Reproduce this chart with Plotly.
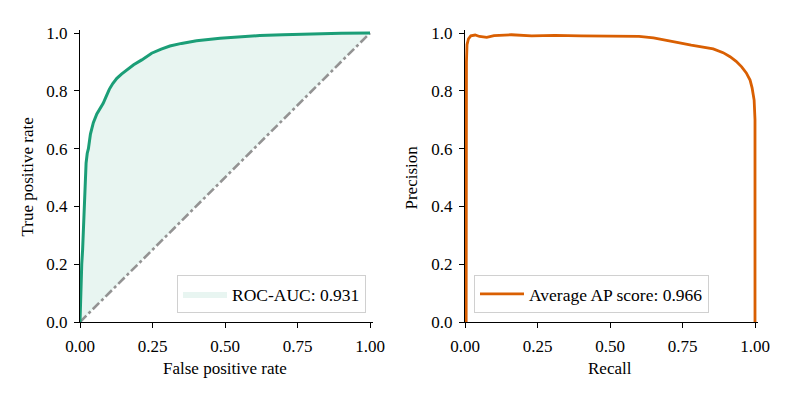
import plotly.graph_objects as go

# ROC data
fpr = [0, 0.001, 0.003, 0.006, 0.009, 0.012, 0.014, 0.017, 0.021, 0.025, 0.029, 0.036, 0.046, 0.058,
       0.07, 0.08, 0.09, 0.101, 0.113, 0.127, 0.143, 0.161, 0.185, 0.213, 0.247, 0.28, 0.31, 0.35,
       0.402, 0.483, 0.55, 0.62, 0.7, 0.8, 0.9, 1.0]
tpr = [0, 0.05, 0.12, 0.2, 0.25, 0.33, 0.41, 0.49, 0.55, 0.584, 0.6, 0.65, 0.69, 0.72,
       0.74, 0.757, 0.78, 0.805, 0.825, 0.843, 0.858, 0.872, 0.89, 0.907, 0.93, 0.944, 0.955, 0.964,
       0.973, 0.982, 0.987, 0.991, 0.994, 0.997, 0.999, 1.0]
diag = [0, 1]

# Precision-recall data
recall = [0.004, 0.004, 0.005, 0.007, 0.012, 0.02, 0.035, 0.05, 0.075, 0.1, 0.16, 0.23, 0.31, 0.4,
          0.5, 0.55, 0.6, 0.65, 0.7, 0.74, 0.78, 0.81, 0.856, 0.89, 0.914, 0.935, 0.954, 0.97,
          0.983, 0.99, 0.997, 1.0, 1.0]
precision = [0.0, 0.6, 0.9, 0.96, 0.98, 0.99, 0.993, 0.988, 0.985, 0.991, 0.994, 0.99, 0.992, 0.99,
             0.99, 0.989, 0.988, 0.983, 0.975, 0.966, 0.958, 0.953, 0.945, 0.932, 0.918, 0.902,
             0.883, 0.862, 0.837, 0.81, 0.768, 0.70, 0.0]

roc_label = "ROC-AUC: 0.931"
pr_label = "Average AP score: 0.966"
xticks_vals = [0, 0.25, 0.5, 0.75, 1.0]
yticks_vals = [0, 0.2, 0.4, 0.6, 0.8, 1.0]

GREEN = "#1b9e77"
ORANGE = "#d95f02"
FONT = "Liberation Serif"
FS = 17

fig = go.Figure()

# base for fill (diagonal)
fig.add_trace(go.Scatter(x=diag, y=diag, mode="lines", line=dict(width=0, color="rgba(0,0,0,0)"),
                         showlegend=False, hoverinfo="skip", xaxis="x", yaxis="y"))
fig.add_trace(go.Scatter(x=fpr, y=tpr, mode="lines", fill="tonexty",
                         fillcolor="rgba(27,158,119,0.1)", line=dict(width=0, color="rgba(0,0,0,0)"),
                         name=roc_label, legend="legend", xaxis="x", yaxis="y"))
fig.add_trace(go.Scatter(x=diag, y=diag, mode="lines", line=dict(color="#939393", width=2.6, dash="dashdot"),
                         showlegend=False, xaxis="x", yaxis="y"))
fig.add_trace(go.Scatter(x=fpr, y=tpr, mode="lines", line=dict(color=GREEN, width=3),
                         showlegend=False, xaxis="x", yaxis="y"))

fig.add_trace(go.Scatter(x=recall, y=precision, mode="lines", line=dict(color=ORANGE, width=2.8),
                         name=pr_label, legend="legend2", xaxis="x2", yaxis="y2"))

W, H = 789, 395
OFF = 8  # page body margin in the browser
x0L, x0R, unit = 80 - OFF, 465 - OFF, 290
y0 = 322 - OFF
yunit = 289
ext = 1.01

def xdom(x0):
    return [x0 / W, (x0 + ext * unit) / W]

ydom = [(H - y0) / H, (H - (y0 - ext * yunit)) / H]

axis_common = dict(range=[0, ext], showline=True, linecolor="black", linewidth=1.3,
                   ticks="outside", ticklen=5, tickwidth=1.3, tickcolor="black",
                   showgrid=False, zeroline=False, mirror=False, automargin=False,
                   ticklabelstandoff=3,
                   tickfont=dict(family=FONT, size=FS, color="black"))

def title_ann(text, xpx, ypx, angle=0):
    return dict(text=text, x=(xpx - OFF) / W, y=(H - (ypx - OFF)) / H, xref="paper", yref="paper",
                xanchor="center", yanchor="middle", showarrow=False, textangle=angle,
                font=dict(family=FONT, size=FS, color="black"))

fig.update_layout(
    width=W, height=H,
    margin=dict(l=0, r=0, t=0, b=0),
    paper_bgcolor="white", plot_bgcolor="white",
    font=dict(family=FONT, size=FS, color="black"),
    xaxis=dict(domain=xdom(x0L), anchor="y", tickvals=xticks_vals, tickformat=".2f", **axis_common),
    yaxis=dict(domain=ydom, anchor="x", tickvals=yticks_vals, tickformat=".1f", **axis_common),
    xaxis2=dict(domain=xdom(x0R), anchor="y2", tickvals=xticks_vals, tickformat=".2f", **axis_common),
    yaxis2=dict(domain=ydom, anchor="x2", tickvals=yticks_vals, tickformat=".1f", **axis_common),
    annotations=[
        title_ann("False positive rate", 225, 368),
        title_ann("Recall", 610, 368),
        title_ann("True positive rate", 27, 177.5, -90),
        title_ann("Precision", 411, 177.5, -90),
    ],
    legend=dict(x=(366 - OFF) / W, y=(H - (313 - OFF)) / H, xanchor="right", yanchor="bottom",
                bgcolor="rgba(255,255,255,0.8)", bordercolor="#d0d0d0", borderwidth=1,
                itemwidth=44, font=dict(family=FONT, size=17.5, color="black")),
    legend2=dict(x=(474 - OFF) / W, y=(H - (313 - OFF)) / H, xanchor="left", yanchor="bottom",
                 bgcolor="rgba(255,255,255,0.8)", bordercolor="#d0d0d0", borderwidth=1,
                 itemwidth=44, font=dict(family=FONT, size=17.5, color="black")),
    showlegend=True,
)

fig.write_html("out.html")
